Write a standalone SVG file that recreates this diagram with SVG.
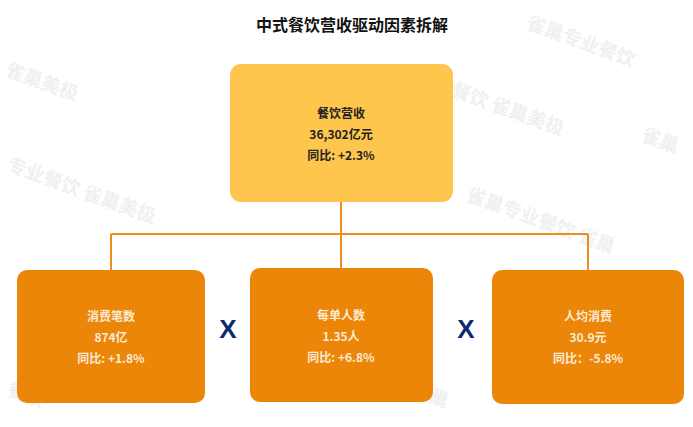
<svg xmlns="http://www.w3.org/2000/svg" width="693" height="427" viewBox="0 0 693 427">
<style>
.wm{font-family:"Noto Sans CJK SC",sans-serif;font-size:19px;fill:#f0f0f0;font-weight:bold}
.title{font-family:"Noto Sans CJK SC",sans-serif;font-size:16px;font-weight:bold;fill:#111}
.t1{font-family:"Noto Sans CJK SC",sans-serif;font-size:12px;font-weight:bold;fill:#222;text-anchor:middle;dominant-baseline:central}
.t2{font-family:"Noto Sans CJK SC",sans-serif;font-size:12px;font-weight:bold;fill:#fbead6;text-anchor:middle;dominant-baseline:central}
.top{fill:#FFC64D}
.bot{fill:#EB8608}
.conn{stroke:#EC8D1E;stroke-width:2;fill:none}
.x{font-family:"Liberation Sans",Arial,sans-serif;font-size:26px;font-weight:bold;fill:#0E2A6E;text-anchor:middle;dominant-baseline:central}
</style>
<rect width="693" height="427" fill="#fff"/>
<g id="watermark">
<text class="wm" transform="translate(4,75) rotate(20)">雀巢美极</text>
<text class="wm" transform="translate(6,170) rotate(20)">专业餐饮 雀巢美极</text>
<text class="wm" transform="translate(450,95) rotate(20)">餐饮 雀巢美极</text>
<text class="wm" transform="translate(465,200) rotate(20)">雀巢专业餐饮 雀巢</text>
<text class="wm" transform="translate(525,28) rotate(20)">雀巢专业餐饮</text>
<text class="wm" transform="translate(640,140) rotate(20)">雀巢</text>
<text class="wm" transform="translate(6,395) rotate(20)">餐饮</text>
<text class="wm" transform="translate(410,395) rotate(20)">雀巢</text>
</g>
<text class="title" x="352" y="31" text-anchor="middle">中式餐饮营收驱动因素拆解</text>
<g id="connectors">
<path class="conn" d="M341,202 V234 M111,234 H588 M111,234 V270 M341,234 V268 M588,234 V270"/>
</g>
<g id="node-revenue">
<rect class="top" x="230" y="64" width="223" height="138" rx="11"/>
<text class="t1" x="341" y="112">餐饮营收</text>
<text class="t1" x="341" y="133">36,302亿元</text>
<text class="t1" x="341" y="154">同比: +2.3%</text>
</g>
<g id="node-count">
<rect class="bot" x="17" y="270" width="188" height="133" rx="10"/>
<text class="t2" x="111" y="315">消费笔数</text>
<text class="t2" x="111" y="336">874亿</text>
<text class="t2" x="111" y="357">同比: +1.8%</text>
</g>
<g id="node-people">
<rect class="bot" x="250" y="268" width="183" height="134" rx="10"/>
<text class="t2" x="341" y="314">每单人数</text>
<text class="t2" x="341" y="335">1.35人</text>
<text class="t2" x="341" y="356">同比: +6.8%</text>
</g>
<g id="node-avg">
<rect class="bot" x="492" y="270" width="192" height="134" rx="10"/>
<text class="t2" x="588" y="315">人均消费</text>
<text class="t2" x="588" y="336">30.9元</text>
<text class="t2" x="588" y="357">同比：-5.8%</text>
</g>
<text class="x" x="228" y="329">X</text>
<text class="x" x="466" y="329">X</text>
</svg>
